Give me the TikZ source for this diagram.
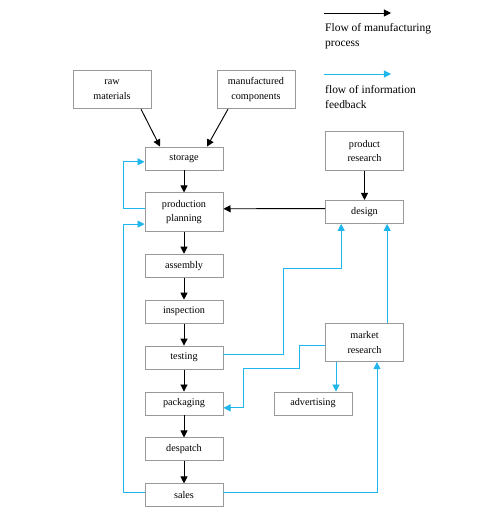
\documentclass[tikz,border=0pt]{standalone}
\usepackage{fontspec}
\setmainfont{Liberation Serif}
\usetikzlibrary{arrows.meta, positioning, calc}
\definecolor{fbcyan}{RGB}{30,182,235}
\tikzset{
  box/.style={rectangle, draw=gray!80, line width=0.8pt,
              minimum width=2.34cm, minimum height=0.69cm,
              inner sep=1pt, align=center,
              font=\fontsize{8.7}{12.5}\selectfont},
  tallbox/.style={box, minimum height=1.15cm},
  arr/.style={-{Triangle[length=6pt, width=6pt]}, line width=0.8pt},
  fb/.style={arr, draw=fbcyan},
  legtxt/.style={anchor=base west, inner sep=0pt, align=left,
                 font=\fontsize{9.8}{12.5}\selectfont},
}

\begin{document}
\begin{tikzpicture}[node distance=0.66cm]
  \useasboundingbox (0,0) rectangle (15.09,-15.36);
  % legend
  \coordinate (legA1) at (9.72,-0.39);
  \coordinate (legA2) at (11.73,-0.39);
  \coordinate (legB1) at (9.72,-2.22);
  \coordinate (legB2) at (11.73,-2.22);
  \draw[arr] (legA1) -- (legA2);
  \draw[fb] (legB1) -- (legB2);
  \node[legtxt] (legA) at (9.75,-1.38) {Flow of manufacturing\\process};
  \node[legtxt] (legB) at (9.75,-3.24) {flow of information\\feedback};
  % inputs
  \node[tallbox] (raw) at (3.36,-2.685) {raw\\materials};
  \node[tallbox] (manuf) at (7.68,-2.685) {manufactured\\components};
  % main chain
  \node[box] (storage) at (5.52,-4.755) {storage};
  \node[tallbox, below=of storage] (planning) {production\\planning};
  \node[box, below=of planning] (assembly) {assembly};
  \node[box, below=of assembly] (inspection) {inspection};
  \node[box, below=of inspection] (testing) {testing};
  \node[box, below=of testing] (packaging) {packaging};
  \node[box, below=of packaging] (despatch) {despatch};
  \node[box, below=of despatch] (sales) {sales};
  % right side
  \node[tallbox] (prodres) at (10.935,-4.53) {product\\research};
  \node[box, below=0.88cm of prodres] (design) {design};
  \node[tallbox] (mres) at (10.935,-10.275) {market\\research};
  \node[box] (adv) at (packaging -| 9.39,0) {advertising};

  \draw[arr] ([xshift=0.87cm]raw.south) -- ([xshift=-0.72cm]storage.north);
  \draw[arr] ([xshift=-0.84cm]manuf.south) -- ([xshift=0.69cm]storage.north);
  \draw[arr] (storage) -- (planning);
  \draw[arr] (planning) -- (assembly);
  \draw[arr] (assembly) -- (inspection);
  \draw[arr] (inspection) -- (testing);
  \draw[arr] (testing) -- (packaging);
  \draw[arr] (packaging) -- (despatch);
  \draw[arr] (despatch) -- (sales);
  \draw[arr] (prodres) -- (design);
  \draw[arr] ([yshift=0.1cm]design.west) -- ([yshift=0.1cm]planning.east);

  % feedback
  \draw[fb] ([yshift=0.1cm]planning.west) -- ++(-0.63,0) |- ([yshift=-0.1cm]storage.west);
  \draw[fb] ([yshift=0.1cm]sales.west) -- ++(-0.63,0) |- ([yshift=-0.36cm]planning.west);
  \draw[fb] ([yshift=0.1cm]testing.east) -| (8.49,-8.04) -| ([xshift=-0.7cm]design.south);
  \draw[fb] ([xshift=0.68cm]mres.north) -- ([xshift=0.68cm]design.south);
  \draw[fb] ([yshift=-0.08cm]mres.west) -| (8.97,-11.04)
    -| ([xshift=0.6cm, yshift=-0.13cm]packaging.east) -- ([yshift=-0.13cm]packaging.east);
  \draw[fb] ([xshift=-0.855cm]mres.south) -- ([xshift=0.69cm]adv.north);
  \draw[fb] ([yshift=0.1cm]sales.east) -| ([xshift=0.375cm]mres.south);
\end{tikzpicture}
\end{document}
